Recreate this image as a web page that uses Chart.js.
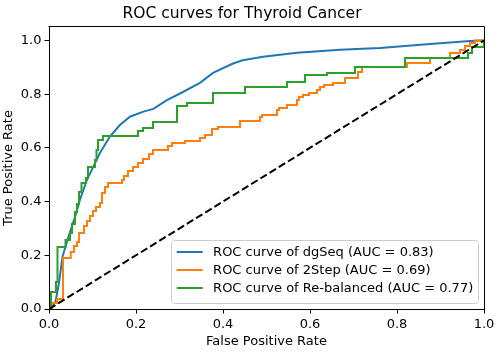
<!DOCTYPE html>
<html><head><meta charset="utf-8">
<script src="https://cdn.jsdelivr.net/npm/chart.js@4/dist/chart.umd.min.js"></script>
<style>html,body{margin:0;padding:0;background:#fff;}canvas{display:block;}</style>
</head><body>
<canvas id="c" width="501" height="352"></canvas>
<script>
// ---- data ----
const chartTitle = 'ROC curves for Thyroid Cancer';
const xAxisTitle = 'False Positive Rate';
const yAxisTitle = 'True Positive Rate';
const xTickValues = [0, 0.2, 0.4, 0.6, 0.8, 1.0];
const xTickLabels = ['0.0', '0.2', '0.4', '0.6', '0.8', '1.0'];
const yTickValues = [0, 0.2, 0.4, 0.6, 0.8, 1.0];
const yTickLabels = ['0.0', '0.2', '0.4', '0.6', '0.8', '1.0'];
const seriesLabels = ['ROC curve of dgSeq (AUC = 0.83)', 'ROC curve of 2Step (AUC = 0.69)', 'ROC curve of Re-balanced (AUC = 0.77)'];
const seriesColors = ['#1f77b4', '#ff7f0e', '#2ca02c'];

const dgSeqFpr = [0, 0.015, 0.023, 0.031, 0.045, 0.060, 0.071, 0.087, 0.102, 0.117, 0.140, 0.163, 0.186, 0.217, 0.240, 0.271, 0.308, 0.347, 0.377, 0.423, 0.445, 0.492, 0.570, 0.669, 0.761, 0.876, 0.968, 1.0];
const dgSeqTpr = [0, 0.027, 0.097, 0.195, 0.270, 0.344, 0.406, 0.480, 0.530, 0.581, 0.642, 0.685, 0.716, 0.735, 0.745, 0.778, 0.808, 0.842, 0.879, 0.914, 0.926, 0.939, 0.954, 0.965, 0.972, 0.987, 0.998, 1.0];

const twoStepFpr = [0, 0.0069, 0.0184, 0.0322, 0.0499, 0.0575, 0.0644, 0.069, 0.0805, 0.0874, 0.0943, 0.1011, 0.108, 0.1172, 0.1218, 0.1287, 0.1356, 0.1678, 0.1724, 0.1816, 0.1931, 0.2046, 0.2161, 0.2299, 0.2391, 0.2736, 0.2828, 0.3126, 0.3471, 0.3586, 0.3747, 0.3885, 0.4391, 0.4851, 0.4897, 0.5241, 0.5287, 0.5471, 0.5701, 0.5747, 0.5839, 0.5977, 0.6161, 0.623, 0.6322, 0.6529, 0.6805, 0.7103, 0.7195, 0.823, 0.8759, 0.9218, 0.9448, 0.9563, 0.9678, 0.9793, 1.0];
const twoStepTpr = [0, 0.0223, 0.0372, 0.19, 0.2123, 0.2346, 0.2495, 0.2831, 0.3091, 0.3277, 0.3464, 0.365, 0.3799, 0.3948, 0.432, 0.4544, 0.4693, 0.4804, 0.4953, 0.514, 0.5289, 0.5438, 0.5587, 0.5773, 0.5922, 0.6071, 0.6182, 0.6257, 0.6369, 0.648, 0.6704, 0.6778, 0.7002, 0.7151, 0.7225, 0.7412, 0.7486, 0.7598, 0.7784, 0.7896, 0.797, 0.8045, 0.8156, 0.8268, 0.8343, 0.8417, 0.8603, 0.8827, 0.9013, 0.9162, 0.9348, 0.9534, 0.9646, 0.9795, 0.9907, 1.0, 1.0];

const rebalancedFpr = [0, 0.0046, 0.0161, 0.0195, 0.0379, 0.0483, 0.0529, 0.0598, 0.0644, 0.069, 0.0747, 0.0851, 0.0897, 0.1057, 0.1092, 0.1126, 0.1241, 0.2046, 0.2161, 0.2391, 0.2943, 0.3172, 0.377, 0.4506, 0.5471, 0.5885, 0.6391, 0.7034, 0.8184, 0.9632, 0.9724, 1.0];
const rebalancedTpr = [0, 0.0633, 0.1006, 0.2309, 0.257, 0.2831, 0.3166, 0.3613, 0.3911, 0.4358, 0.4693, 0.4879, 0.5289, 0.5549, 0.5922, 0.6294, 0.6443, 0.6629, 0.6741, 0.6965, 0.756, 0.7672, 0.8045, 0.8268, 0.8454, 0.8715, 0.879, 0.9013, 0.9348, 0.9534, 0.9758, 1.0];

const chanceFpr = [0, 1];
const chanceTpr = [0, 1];

// ---- build ----
const pts = (xs, ys) => xs.map((x, i) => ({x: x, y: ys[i]}));
const FONT = '"DejaVu Sans", "Liberation Sans", sans-serif';

const frameAndLegend = {
  id: 'frameAndLegend',
  afterDraw(chart) {
    const ctx = chart.ctx, a = chart.chartArea;
    ctx.save();
    // top and right spines
    ctx.strokeStyle = '#000';
    ctx.lineWidth = 1;
    ctx.beginPath();
    const L = Math.round(a.left) - 0.5, R = Math.round(a.right) + 0.5, T = Math.round(a.top) - 0.5;
    ctx.moveTo(L, T); ctx.lineTo(R, T); ctx.lineTo(R, Math.round(a.bottom) + 0.5);
    ctx.stroke();
    // legend
    const fs = 13;
    const items = chart.data.datasets.filter(d => d.inLegend);
    ctx.font = fs + 'px ' + FONT;
    const tw = Math.max(...items.map(d => ctx.measureText(d.label).width));
    const w = 0.4 * fs + 2 * fs + 0.8 * fs + tw + 0.4 * fs;
    const rowGap = 18;
    const h = 12 + rowGap * (items.length - 1) + 14.5;
    const right = a.right - 0.5 * fs, bottom = a.bottom - 0.5 * fs;
    const left = Math.round(right - w) + 0.5, top = Math.round(bottom - h) + 0.5;
    ctx.beginPath();
    ctx.roundRect(left, top, Math.round(w), Math.round(h), 3);
    ctx.fillStyle = 'rgba(255,255,255,0.8)';
    ctx.fill();
    ctx.strokeStyle = '#cccccc';
    ctx.lineWidth = 1;
    ctx.stroke();
    items.forEach((d, i) => {
      const cy = top + 11.5 + i * rowGap;
      ctx.beginPath();
      ctx.moveTo(left + 0.4 * fs, cy);
      ctx.lineTo(left + 2.4 * fs, cy);
      ctx.strokeStyle = d.borderColor;
      ctx.lineWidth = 2;
      ctx.stroke();
      ctx.fillStyle = '#000';
      ctx.textBaseline = 'middle';
      ctx.textAlign = 'left';
      ctx.fillText(d.label, left + 3.2 * fs, cy + 0.5);
    });
    ctx.restore();
  }
};

const axisCommon = (tickValues, tickLabels, title, titlePad) => ({
  type: 'linear',
  afterBuildTicks: s => { s.ticks = tickValues.map(v => ({value: v})); },
  ticks: {
    callback: (v, i) => tickLabels[i],
    font: {family: FONT, size: 13},
    color: '#000',
    padding: 3,
    maxRotation: 0,
    autoSkip: false
  },
  grid: {display: true, drawOnChartArea: false, drawTicks: true, tickLength: 4.5, color: '#000', lineWidth: 1},
  border: {display: true, color: '#000', width: 1},
  title: {display: true, text: title, font: {family: FONT, size: 13}, color: '#000', padding: titlePad}
});

const xScale = axisCommon(xTickValues, xTickLabels, xAxisTitle, {top: 0, bottom: 2.2});
xScale.min = 0; xScale.max = 1;
xScale.afterFit = s => { s.height = 43; };
const yScale = axisCommon(yTickValues, yTickLabels, yAxisTitle, {top: 0.7, bottom: 0});
yScale.min = 0; yScale.max = 1.05;
yScale.afterFit = s => { s.width = 49; };

new Chart(document.getElementById('c'), {
  type: 'scatter',
  data: {
    datasets: [
      {label: seriesLabels[0], data: pts(dgSeqFpr, dgSeqTpr), borderColor: seriesColors[0], backgroundColor: seriesColors[0], borderWidth: 2, showLine: true, pointRadius: 0, order: 3, inLegend: true},
      {label: seriesLabels[1], data: pts(twoStepFpr, twoStepTpr), borderColor: seriesColors[1], backgroundColor: seriesColors[1], borderWidth: 2, showLine: true, pointRadius: 0, stepped: 'before', order: 2, inLegend: true},
      {label: seriesLabels[2], data: pts(rebalancedFpr, rebalancedTpr), borderColor: seriesColors[2], backgroundColor: seriesColors[2], borderWidth: 2, showLine: true, pointRadius: 0, stepped: 'before', order: 1, inLegend: true},
      {label: 'chance', data: pts(chanceFpr, chanceTpr), borderColor: '#000', backgroundColor: '#000', borderWidth: 2, borderDash: [7.5, 3.3], showLine: true, pointRadius: 0, order: 0, inLegend: false}
    ]
  },
  options: {
    responsive: false,
    animation: false,
    devicePixelRatio: 1,
    layout: {padding: {left: 0, right: 17, top: 0, bottom: 0}},
    plugins: {
      legend: {display: false},
      tooltip: {enabled: false},
      title: {display: true, text: chartTitle, font: {family: FONT, size: 15.5, weight: 'normal'}, color: '#000', padding: {top: 5, bottom: 3.4}}
    },
    scales: {x: xScale, y: yScale}
  },
  plugins: [frameAndLegend]
});
</script>
</body></html>
